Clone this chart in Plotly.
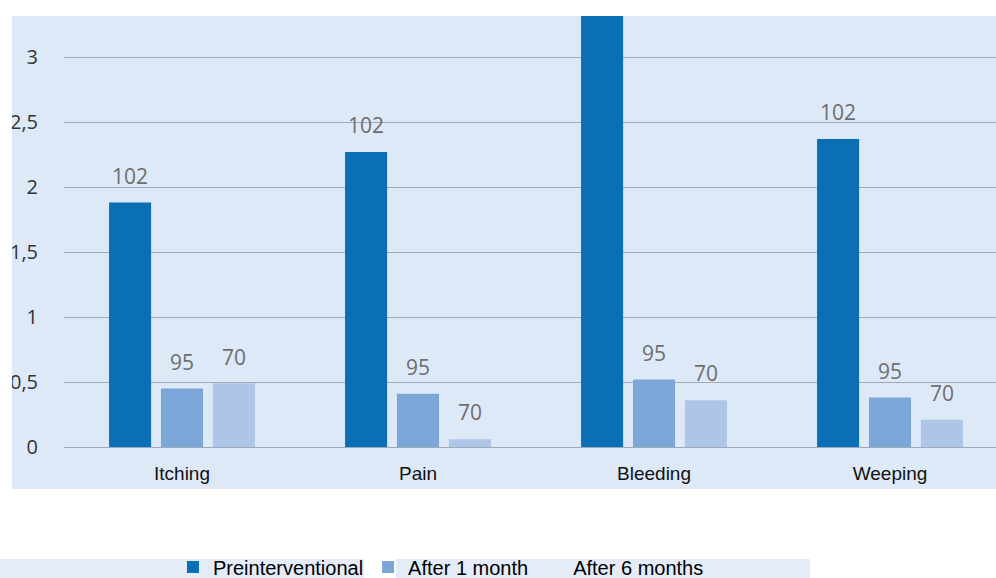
import plotly.graph_objects as go

categories = ["Itching", "Pain", "Bleeding", "Weeping"]
series_names = ["Preinterventional", "After 1 month", "After 6 months"]
preinterventional = [1.88, 2.27, 3.6, 2.37]
after_1_month = [0.45, 0.41, 0.52, 0.38]
after_6_months = [0.49, 0.06, 0.36, 0.21]
n_labels = ["102", "95", "70"]
y_tick_values = [0, 0.5, 1, 1.5, 2, 2.5, 3]

series_values = [preinterventional, after_1_month, after_6_months]
colors = ["#0a6fb5", "#7ba6d7", "#adc6e8"]

W, H = 996, 578
L, R, T, B = 64, 0, 16, 131
pw, ph = W - L - R, H - T - B
y_max = ph / 130


def px_x(p):
    return (p - L) / pw


def px_y(p):
    return (H - B - p) / ph


fig = go.Figure()
for i, (name, vals, col) in enumerate(zip(series_names, series_values, colors)):
    fig.add_trace(go.Bar(
        name=name, x=categories, y=vals, marker=dict(color=col, line=dict(width=0)),
        offsetgroup=str(i), showlegend=(i < 2), hoverinfo="skip",
    ))
for i, (name, vals) in enumerate(zip(series_names, series_values)):
    # labels of bars that run past the top of the axis are not shown (as in the source)
    texts = [n_labels[i] if v < y_max else "" for v in vals]
    fig.add_trace(go.Scatter(
        name=name, x=categories, y=vals, mode="markers+text",
        text=texts, textposition="top center",
        textfont=dict(family="Open Sans", size=21, color="#6e6e6e"),
        marker=dict(size=20, color="rgba(0,0,0,0)"),
        offsetgroup=str(i), showlegend=(i == 2), cliponaxis=True, hoverinfo="skip",
    ))

shapes = [
    # light blue chart panel
    dict(type="rect", xref="paper", yref="paper", x0=px_x(12), x1=px_x(996),
         y0=px_y(489), y1=px_y(16), fillcolor="#dde9f7", line=dict(width=0), layer="below"),
    # legend strips
    dict(type="rect", xref="paper", yref="paper", x0=px_x(0), x1=px_x(364),
         y0=px_y(578), y1=px_y(559), fillcolor="#e3ecf8", line=dict(width=0), layer="below"),
    dict(type="rect", xref="paper", yref="paper", x0=px_x(396), x1=px_x(810),
         y0=px_y(578), y1=px_y(559), fillcolor="#e3ecf8", line=dict(width=0), layer="below"),
    # white margin clipping the tick labels at the left edge
    dict(type="rect", xref="paper", yref="paper", x0=px_x(0), x1=px_x(12),
         y0=px_y(500), y1=px_y(0), fillcolor="white", line=dict(width=0), layer="above"),
]

fig.update_layout(
    width=W, height=H,
    margin=dict(l=L, r=R, t=T, b=B, autoexpand=False),
    paper_bgcolor="white", plot_bgcolor="rgba(0,0,0,0)",
    barmode="group", bargap=0.34, bargroupgap=0.19,
    scattermode="group", scattergap=0.34,
    separators=",.",
    shapes=shapes,
    showlegend=True,
    legend=dict(orientation="h", xref="container", yref="container",
                x=173 / W, y=1 - 567 / H, xanchor="left", yanchor="middle",
                bgcolor="rgba(0,0,0,0)", font=dict(family="Liberation Sans", size=20, color="#000"),
                itemwidth=30, traceorder="normal"),
    xaxis=dict(range=[-0.5, -0.5 + pw / 236], showgrid=False, showline=False, zeroline=False,
               ticks="", ticklabelstandoff=13,
               tickfont=dict(family="Liberation Sans", size=19, color="#111")),
    yaxis=dict(range=[0, y_max], tickvals=y_tick_values, showgrid=True,
               gridcolor="#9eaaba", gridwidth=1, zeroline=True, zerolinecolor="#9eaaba",
               zerolinewidth=1, showline=False, ticks="", ticklabelstandoff=25,
               tickfont=dict(family="Open Sans", size=20, color="#333")),
)

fig.write_html(
    "out.html",
    config={"displayModeBar": False},
    post_script="document.body.style.margin='0';document.body.style.overflow='hidden';",
)
